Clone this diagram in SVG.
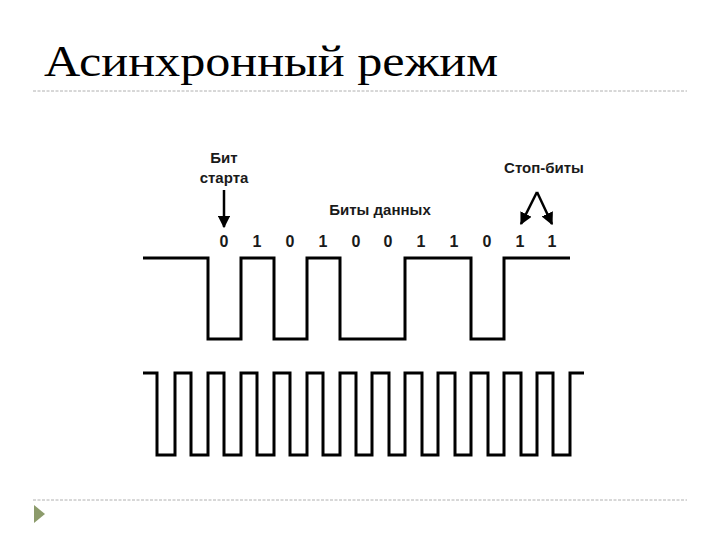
<svg xmlns="http://www.w3.org/2000/svg" width="720" height="540" viewBox="0 0 720 540">
<defs>
<style>
.title{font-family:"Liberation Serif","DejaVu Serif",serif;font-size:45px;fill:#000}
.lbl{font-family:"Liberation Sans",Arial,sans-serif;font-weight:bold;font-size:15px;fill:#1a1a1a;text-anchor:middle}
.bit{font-family:"Liberation Sans",Arial,sans-serif;font-weight:bold;font-size:16px;fill:#1a1a1a;text-anchor:middle}
.sig{fill:none;stroke:#000;stroke-width:3;stroke-linejoin:miter}
.arr{fill:none;stroke:#000;stroke-width:2.5}
.rule{stroke:#b0b0b0;stroke-width:1;stroke-dasharray:3 1.5}
</style>
<marker id="ah" viewBox="0 0 10 10" refX="9" refY="5" markerWidth="5" markerHeight="5" orient="auto" markerUnits="strokeWidth">
<path d="M0,0 L10,5 L0,10 z" fill="#000"/>
</marker>
</defs>
<rect width="720" height="540" fill="#fff"/>
<text class="title" x="44" y="76" textLength="454" lengthAdjust="spacingAndGlyphs">Асинхронный режим</text>
<line class="rule" x1="33" y1="91" x2="687" y2="91"/>
<line class="rule" x1="33" y1="500" x2="687" y2="500"/>
<polygon points="34,505 45,514 34,523" fill="#8c9b6b"/>

<g id="start-label">
<text class="lbl" x="224" y="163">Бит</text>
<text class="lbl" x="224" y="183">старта</text>
</g>
<g id="data-label">
<text class="lbl" x="380" y="215">Биты данных</text>
</g>
<g id="stop-label">
<text class="lbl" x="544" y="173">Стоп-биты</text>
</g>
<g id="bits">
<text class="bit" x="224" y="247">0</text>
<text class="bit" x="257" y="247">1</text>
<text class="bit" x="290" y="247">0</text>
<text class="bit" x="323" y="247">1</text>
<text class="bit" x="356" y="247">0</text>
<text class="bit" x="388" y="247">0</text>
<text class="bit" x="421" y="247">1</text>
<text class="bit" x="454" y="247">1</text>
<text class="bit" x="487" y="247">0</text>
<text class="bit" x="520" y="247">1</text>
<text class="bit" x="552" y="247">1</text>
</g>
<g id="data-signal">
<path class="sig" d="M143,258 H208 V339 H241 V258 H274 V339 H307 V258 H340 V339 H405 V258 H471 V339 H504 V258 H570"/>
</g>
<g id="clock-signal">
<path class="sig" d="M143,373 H157 V455 H175 V373 H191 V455 H208 V373 H224 V455 H241 V373 H257 V455 H274 V373 H290 V455 H307 V373 H323 V455 H340 V373 H356 V455 H372 V373 H389 V455 H405 V373 H422 V455 H438 V373 H455 V455 H471 V373 H488 V455 H504 V373 H521 V455 H537 V373 H553 V455 H570 V373 H584"/>
</g>
<g id="connectors">
<line class="arr" x1="224" y1="190" x2="224" y2="227" marker-end="url(#ah)"/>
<line class="arr" x1="537" y1="192" x2="521" y2="224" marker-end="url(#ah)"/>
<line class="arr" x1="537" y1="192" x2="552" y2="224" marker-end="url(#ah)"/>
</g>
</svg>
